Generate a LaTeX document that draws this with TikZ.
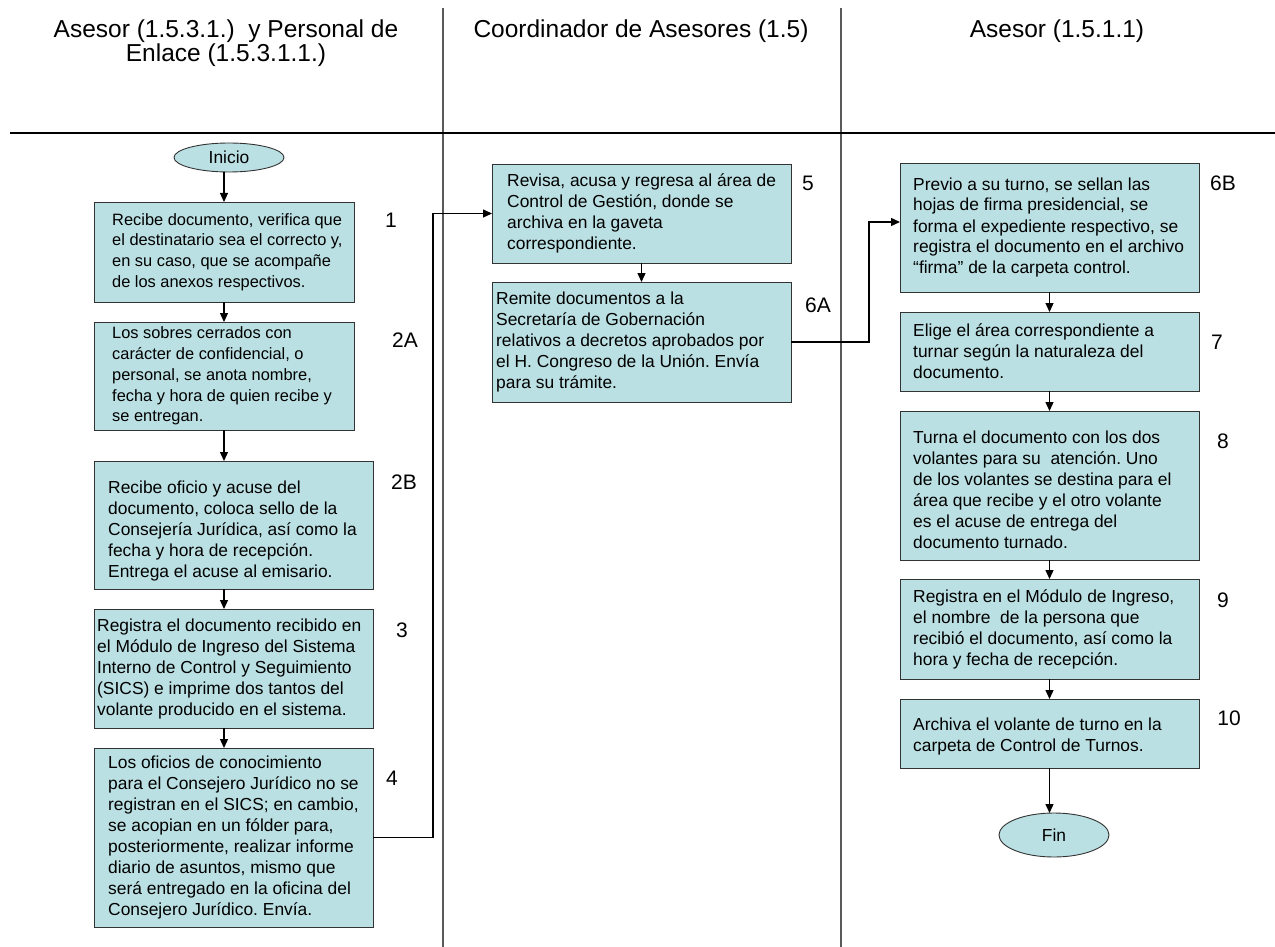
\documentclass[tikz,border=0pt]{standalone}
\usepackage{fontspec}
\setmainfont{Liberation Sans}
\usetikzlibrary{shapes.geometric,arrows.meta}
\definecolor{boxfill}{HTML}{BBE0E3}
\definecolor{boxline}{HTML}{333333}
\definecolor{laneline}{HTML}{5A5A5A}
\frenchspacing

\begin{document}
\begin{tikzpicture}[x=1pt,y=-1pt,
  box/.style={draw=boxline, line width=0.9pt, fill=boxfill, rectangle, inner sep=0pt, outer sep=0pt},
  txt/.style={align=left, inner sep=0pt, anchor=west, font=\fontsize{17.4}{21}\selectfont},
  smalltxt/.style={txt, font=\fontsize{16.4}{20.8}\selectfont},
  term/.style={draw=boxline, line width=0.9pt, fill=boxfill, ellipse, inner sep=0pt, outer sep=0pt, font=\fontsize{17.4}{21}\selectfont},
  lbl/.style={inner sep=0pt, font=\fontsize{21}{24}\selectfont},
  hdr/.style={inner sep=0pt, align=center, font=\fontsize{24.5}{24}\selectfont},
  flow/.style={draw=black, line width=1.3pt, -{Triangle[length=9pt,width=8pt]}},
]
\useasboundingbox (0,0) rectangle (1275,947);
\fill[white] (0,0) rectangle (1275,947);

% swimlane frame
\draw[laneline, line width=1.2pt] (443,8) -- (443,947);
\draw[laneline, line width=1.2pt] (841,8) -- (841,947);
\draw[black, line width=1.5pt] (10,133) -- (1275,133);

% lane titles (base anchor sits on the last line)
\node[hdr, anchor=base] (h1) at (226,62) {Asesor (1.5.3.1.)\ \ y Personal de\\Enlace (1.5.3.1.1.)};
\node[hdr, anchor=base] (h2) at (641,38) {Coordinador de Asesores (1.5)};
\node[hdr, anchor=base] (h3) at (1057,38) {Asesor (1.5.1.1)};

% ---- first lane ----
\node[term, minimum width=110, minimum height=29] (inicio) at (229,157.5) {Inicio};

\node[box, minimum width=260, minimum height=100] (b1) at (224,252) {};
\node[smalltxt] (t1) at ([xshift=18]b1.west) {Recibe documento, verifica que\\el destinatario sea el correcto y,\\en su caso, que se acompañe\\de los anexos respectivos.};

\node[box, minimum width=260, minimum height=108] (b2a) at (224,376) {};
\node[smalltxt] (t2a) at ([xshift=18]b2a.west) {Los sobres cerrados con\\carácter de confidencial, o\\personal, se anota nombre,\\fecha y hora de quien recibe y\\se entregan.};

\node[box, minimum width=279, minimum height=128] (b2b) at (233.5,525) {};
\node[txt] (t2b) at ([xshift=14,yshift=-6]b2b.west) {Recibe oficio y acuse del\\documento, coloca sello de la\\Consejería Jurídica, así como la\\fecha y hora de recepción.\\Entrega el acuse al emisario.};

\node[box, minimum width=279, minimum height=119] (b3) at (233.5,668.5) {};
\node[txt] (t3) at ([xshift=3]b3.west) {Registra el documento recibido en\\el Módulo de Ingreso del Sistema\\Interno de Control y Seguimiento\\(SICS) e imprime dos tantos del\\volante producido en el sistema.};

\node[box, minimum width=279, minimum height=179] (b4) at (233.5,837.5) {};
\node[txt] (t4) at ([xshift=14]b4.west) {Los oficios de conocimiento\\para el Consejero Jurídico no se\\registran en el SICS; en cambio,\\se acopian en un fólder para,\\posteriormente, realizar informe\\diario de asuntos, mismo que\\será entregado en la oficina del\\Consejero Jurídico. Envía.};

% ---- second lane ----
\node[box, minimum width=299, minimum height=99] (b5) at (641.5,213.5) {};
\node[txt] (t5) at ([xshift=15]b5.west) {Revisa, acusa y regresa al área de\\Control de Gestión, donde se\\archiva en la gaveta\\correspondiente.};

\node[box, minimum width=299, minimum height=120] (b6a) at (641.5,342) {};
\node[txt] (t6a) at ([xshift=4]b6a.west) {Remite documentos a la\\Secretaría de Gobernación\\relativos a decretos aprobados por\\el H. Congreso de la Unión. Envía\\para su trámite.};

% ---- third lane ----
\node[box, minimum width=299, minimum height=129] (b6b) at (1049.5,227.5) {};
\node[txt] (t6b) at ([xshift=13]b6b.west) {Previo a su turno, se sellan las\\hojas de firma presidencial, se\\forma el expediente respectivo, se\\registra el documento en el archivo\\“firma” de la carpeta control.};

\node[box, minimum width=299, minimum height=79] (b7) at (1049.5,351.5) {};
\node[txt] (t7) at ([xshift=13]b7.west) {Elige el área correspondiente a\\turnar según la naturaleza del\\documento.};

\node[box, minimum width=299, minimum height=149] (b8) at (1049.5,485.5) {};
\node[txt] (t8) at ([xshift=13,yshift=-4]b8.west) {Turna el documento con los dos\\volantes para su\ \ atención. Uno\\de los volantes se destina para el\\área que recibe y el otro volante\\es el acuse de entrega del\\documento turnado.};

\node[box, minimum width=299, minimum height=100] (b9) at (1049.5,629) {};
\node[txt] (t9) at ([xshift=13]b9.west) {Registra en el Módulo de Ingreso,\\el nombre\ \ de la persona que\\recibió el documento, así como la\\hora y fecha de recepción.};

\node[box, minimum width=299, minimum height=69] (b10) at (1049.5,733.5) {};
\node[txt] (t10) at ([xshift=13,yshift=-3]b10.west) {Archiva el volante de turno en la\\carpeta de Control de Turnos.};

\node[term, minimum width=110, minimum height=44] (fin) at (1054,835) {Fin};

% step numbers
\node[lbl] (n1) at (391,220) {1};
\node[lbl] (n2a) at (405,340) {2A};
\node[lbl] (n2b) at (404,482) {2B};
\node[lbl] (n3) at (402,630) {3};
\node[lbl] (n4) at (392,778) {4};
\node[lbl] (n5) at (808,183) {5};
\node[lbl] (n6a) at (818,305) {6A};
\node[lbl] (n6b) at (1223,183) {6B};
\node[lbl] (n7) at (1217,342) {7};
\node[lbl] (n8) at (1223,441) {8};
\node[lbl] (n9) at (1223,600) {9};
\node[lbl] (n10) at (1229,718) {10};

% connectors
\draw[flow] (b1.north |- inicio.south) -- (b1.north);
\draw[flow] (b1.south) -- (b2a.north);
\draw[flow] (b2a.south) -- (b2b.north -| b2a.south);
\draw[flow] (b2b.south -| b1.south) -- (b3.north -| b1.south);
\draw[flow] (b3.south -| b1.south) -- (b4.north -| b1.south);
\draw[flow] (b4.east) -- ++(60,0) |- (b5.west);
\draw[flow] (b5.south) -- (b6a.north);
\draw[flow] (b6a.east) -- ++(78,0) |- ([yshift=5.5]b6b.west);
\draw[flow] (b6b.south) -- (b7.north);
\draw[flow] (b7.south) -- (b8.north);
\draw[flow] (b8.south) -- (b9.north);
\draw[flow] (b9.south) -- (b10.north);
\draw[flow] (b10.south) -- (b10.south |- fin.north);
\end{tikzpicture}
\end{document}
